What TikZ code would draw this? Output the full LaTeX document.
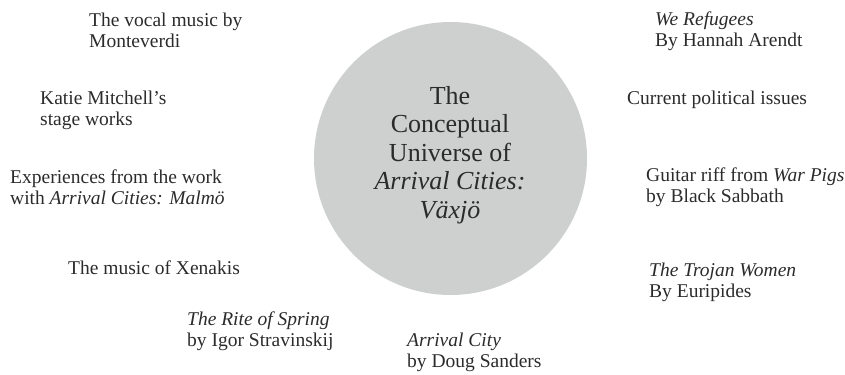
\documentclass[tikz,border=0pt]{standalone}
\usepackage{fontspec}
\setmainfont{Liberation Serif}
\definecolor{ink}{HTML}{2B2B2B}
\definecolor{disc}{HTML}{CECFCF}
\tikzset{
 lbl/.style={anchor=base west, align=left, inner sep=0pt, text=ink, font=\fontsize{19.5bp}{21bp}\selectfont},
 hubtxt/.style={anchor=base, align=center, inner sep=0pt, text=ink, font=\fontsize{26bp}{28.5bp}\selectfont},
 disk/.style={circle, fill=disc, minimum size=273bp, inner sep=0pt}
}
\begin{document}
\begin{tikzpicture}[x=1bp,y=-1bp]
\useasboundingbox (0,0) rectangle (845,374);
\node[disk] (hub) at (450.5,158.5) {};
\node[hubtxt] (title) at (450,218) {The\\Conceptual\\Universe of\\\textit{Arrival Cities:}\\\textit{Växjö}};
\node[lbl] (monteverdi) at (89,47) {The vocal music by\\Monteverdi};
\node[lbl] (mitchell) at (40,125) {Katie Mitchell’s\\stage works};
\node[lbl] (malmo) at (10,204) {Experiences from the work\\with \textit{Arrival Cities: Malmö}};
\node[lbl] (xenakis) at (68,274) {The music of Xenakis};
\node[lbl] (rite) at (187,346) {\textit{The Rite of Spring}\\by Igor Stravinskij};
\node[lbl] (sanders) at (407,367) {\textit{Arrival City}\\by Doug Sanders};
\node[lbl] (arendt) at (655,46) {\textit{We Refugees}\\By Hannah Arendt};
\node[lbl] (politics) at (627,104) {Current political issues};
\node[lbl] (sabbath) at (646,202) {Guitar riff from \textit{War Pigs}\\by Black Sabbath};
\node[lbl] (trojan) at (649,297) {\textit{The Trojan Women}\\By Euripides};
\end{tikzpicture}
\end{document}
